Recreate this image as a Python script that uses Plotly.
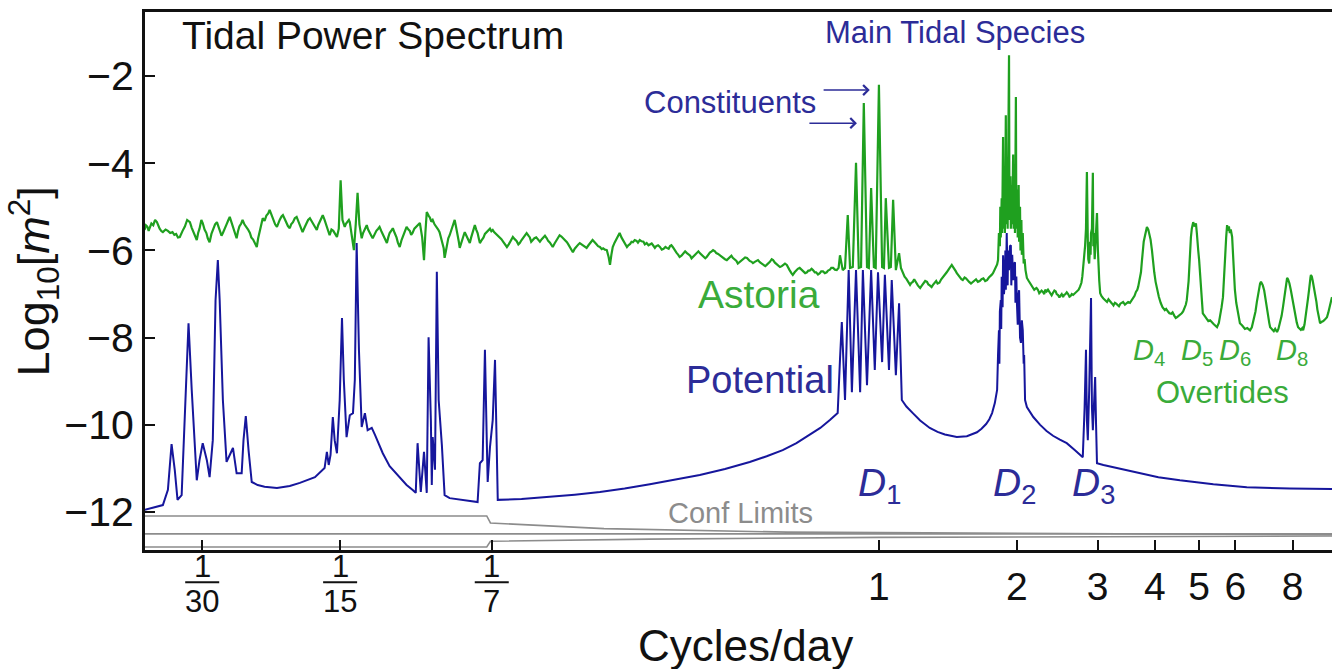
import math
import plotly.graph_objects as go

# ---------------- data (x: log10 cycles/day, y: log10 power [m^2]) ----------------
astoria = [
 (-1.603,-5.53),(-1.600,-5.42),(-1.597,-5.45),(-1.594,-5.55),(-1.592,-5.49),(-1.588,-5.38),(-1.584,-5.42),(-1.580,-5.30),
 (-1.576,-5.35),(-1.573,-5.45),(-1.570,-5.50),(-1.566,-5.56),(-1.563,-5.58),(-1.557,-5.52),(-1.552,-5.55),(-1.547,-5.60),
 (-1.542,-5.58),(-1.538,-5.64),(-1.534,-5.62),(-1.530,-5.70),(-1.526,-5.69),(-1.520,-5.55),(-1.515,-5.45),(-1.510,-5.30),
 (-1.504,-5.35),(-1.500,-5.48),(-1.497,-5.55),(-1.493,-5.68),(-1.489,-5.76),(-1.486,-5.60),(-1.483,-5.50),(-1.479,-5.30),
 (-1.476,-5.37),(-1.472,-5.52),(-1.468,-5.60),(-1.465,-5.72),(-1.461,-5.81),(-1.457,-5.62),(-1.453,-5.50),(-1.449,-5.40),
 (-1.445,-5.35),(-1.442,-5.45),(-1.439,-5.50),(-1.435,-5.66),(-1.432,-5.60),(-1.428,-5.48),(-1.424,-5.40),(-1.420,-5.30),
 (-1.417,-5.23),(-1.413,-5.36),(-1.410,-5.45),(-1.406,-5.62),(-1.402,-5.72),(-1.399,-5.56),(-1.396,-5.45),(-1.392,-5.38),
 (-1.389,-5.30),(-1.385,-5.40),(-1.381,-5.45),(-1.377,-5.52),(-1.373,-5.60),(-1.370,-5.70),(-1.366,-5.75),(-1.362,-5.82),
 (-1.358,-5.92),(-1.355,-5.72),(-1.351,-5.55),(-1.348,-5.38),(-1.345,-5.26),(-1.341,-5.32),(-1.337,-5.20),(-1.333,-5.15),
 (-1.330,-5.07),(-1.326,-5.18),(-1.322,-5.30),(-1.318,-5.40),(-1.314,-5.46),(-1.311,-5.36),(-1.308,-5.30),(-1.304,-5.22),
 (-1.301,-5.19),(-1.297,-5.28),(-1.294,-5.35),(-1.290,-5.44),(-1.286,-5.49),(-1.283,-5.40),(-1.279,-5.35),(-1.275,-5.26),
 (-1.271,-5.23),(-1.268,-5.32),(-1.265,-5.40),(-1.261,-5.50),(-1.258,-5.58),(-1.254,-5.48),(-1.250,-5.40),(-1.246,-5.30),
 (-1.242,-5.26),(-1.238,-5.34),(-1.235,-5.40),(-1.231,-5.48),(-1.227,-5.53),(-1.224,-5.42),(-1.221,-5.35),(-1.217,-5.24),
 (-1.214,-5.19),(-1.210,-5.30),(-1.206,-5.45),(-1.202,-5.58),(-1.199,-5.65),(-1.195,-5.52),(-1.191,-5.55),(-1.187,-5.62),
 (-1.183,-5.69),(-1.179,-5.50),(-1.175,-4.39),(-1.171,-5.30),(-1.168,-5.40),(-1.166,-5.46),(-1.163,-5.38),(-1.160,-5.35),
 (-1.157,-5.30),(-1.155,-5.35),(-1.152,-5.55),(-1.150,-5.70),(-1.146,-5.99),(-1.142,-5.40),(-1.138,-4.68),(-1.134,-5.40),
 (-1.131,-5.62),(-1.129,-5.72),(-1.126,-5.60),(-1.124,-5.55),(-1.121,-5.46),(-1.118,-5.42),(-1.115,-5.52),(-1.112,-5.60),
 (-1.108,-5.66),(-1.105,-5.72),(-1.101,-5.62),(-1.097,-5.55),(-1.093,-5.50),(-1.090,-5.46),(-1.086,-5.56),(-1.082,-5.65),
 (-1.078,-5.76),(-1.074,-5.83),(-1.071,-5.70),(-1.068,-5.60),(-1.064,-5.54),(-1.061,-5.49),(-1.057,-5.60),(-1.053,-5.70),
 (-1.050,-5.82),(-1.046,-5.92),(-1.042,-5.76),(-1.038,-5.65),(-1.034,-5.55),(-1.031,-5.46),(-1.027,-5.52),(-1.024,-5.55),
 (-1.021,-5.64),(-1.018,-5.60),(-1.014,-5.50),(-1.010,-5.45),(-1.006,-5.40),(-1.002,-5.37),(-0.997,-5.70),(-0.993,-6.22),
 (-0.990,-5.60),(-0.987,-5.12),(-0.983,-5.20),(-0.980,-5.25),(-0.977,-5.34),(-0.974,-5.30),(-0.970,-5.40),(-0.966,-5.45),
 (-0.962,-5.52),(-0.959,-5.58),(-0.956,-5.70),(-0.953,-5.80),(-0.950,-5.95),(-0.948,-6.17),(-0.945,-6.00),(-0.943,-5.85),
 (-0.940,-5.72),(-0.937,-5.65),(-0.934,-5.55),(-0.931,-5.45),(-0.928,-5.36),(-0.926,-5.30),(-0.923,-5.46),(-0.920,-5.60),
 (-0.917,-5.80),(-0.915,-5.94),(-0.912,-5.82),(-0.909,-5.75),(-0.906,-5.64),(-0.904,-5.58),(-0.901,-5.66),(-0.898,-5.70),
 (-0.895,-5.78),(-0.893,-5.83),(-0.890,-5.70),(-0.887,-5.60),(-0.884,-5.50),(-0.882,-5.42),(-0.879,-5.52),(-0.876,-5.60),
 (-0.873,-5.74),(-0.871,-5.83),(-0.867,-5.76),(-0.863,-5.70),(-0.860,-5.62),(-0.856,-5.58),(-0.853,-5.54),(-0.849,-5.50),
 (-0.846,-5.56),(-0.843,-5.53),(-0.840,-5.58),(-0.836,-5.62),(-0.832,-5.66),(-0.828,-5.69),(-0.824,-5.74),(-0.820,-5.80),
 (-0.816,-5.86),(-0.812,-5.92),(-0.808,-5.86),(-0.805,-5.80),(-0.802,-5.74),(-0.799,-5.69),(-0.795,-5.74),(-0.791,-5.78),
 (-0.787,-5.86),(-0.784,-5.83),(-0.780,-5.76),(-0.776,-5.70),(-0.772,-5.64),(-0.769,-5.60),(-0.765,-5.66),(-0.762,-5.70),
 (-0.759,-5.80),(-0.756,-5.76),(-0.752,-5.72),(-0.748,-5.70),(-0.744,-5.76),(-0.740,-5.80),(-0.736,-5.74),(-0.733,-5.70),
 (-0.729,-5.66),(-0.725,-5.72),(-0.722,-5.78),(-0.718,-5.82),(-0.715,-5.88),(-0.712,-5.92),(-0.708,-5.84),(-0.705,-5.78),
 (-0.701,-5.70),(-0.697,-5.65),(-0.693,-5.68),(-0.689,-5.72),(-0.685,-5.78),(-0.681,-5.81),(-0.678,-5.86),(-0.675,-5.92),
 (-0.671,-5.98),(-0.668,-6.04),(-0.664,-5.96),(-0.660,-5.90),(-0.656,-5.86),(-0.653,-5.83),(-0.649,-5.86),(-0.645,-5.88),
 (-0.641,-5.92),(-0.638,-5.94),(-0.634,-5.88),(-0.631,-5.85),(-0.628,-5.80),(-0.625,-5.76),(-0.621,-5.82),(-0.617,-5.85),
 (-0.613,-5.90),(-0.609,-5.92),(-0.605,-5.97),(-0.602,-5.95),(-0.598,-5.98),(-0.594,-5.99),(-0.590,-6.15),(-0.587,-6.33),
 (-0.584,-6.10),(-0.581,-5.92),(-0.577,-5.82),(-0.573,-5.75),(-0.569,-5.66),(-0.566,-5.60),(-0.562,-5.70),(-0.558,-5.78),
 (-0.554,-5.86),(-0.550,-5.92),(-0.547,-5.88),(-0.543,-5.85),(-0.540,-5.80),(-0.537,-5.81),(-0.533,-5.76),(-0.529,-5.78),
 (-0.526,-5.82),(-0.522,-5.76),(-0.518,-5.79),(-0.514,-5.80),(-0.511,-5.86),(-0.507,-5.83),(-0.503,-5.88),(-0.500,-5.86),
 (-0.496,-5.84),(-0.493,-5.88),(-0.489,-5.94),(-0.486,-5.90),(-0.482,-5.88),(-0.478,-5.92),(-0.474,-5.98),(-0.470,-5.96),
 (-0.466,-5.92),(-0.463,-5.94),(-0.459,-5.96),(-0.456,-5.90),(-0.453,-5.88),(-0.450,-5.92),(-0.446,-6.00),(-0.442,-6.05),
 (-0.438,-6.10),(-0.435,-6.15),(-0.431,-6.12),(-0.427,-6.08),(-0.423,-6.02),(-0.419,-6.06),(-0.415,-6.10),(-0.412,-6.12),
 (-0.409,-6.18),(-0.406,-6.15),(-0.402,-6.10),(-0.398,-6.08),(-0.394,-6.02),(-0.391,-6.06),(-0.387,-6.10),(-0.383,-6.12),
 (-0.379,-6.18),(-0.376,-6.15),(-0.372,-6.08),(-0.369,-6.05),(-0.365,-6.02),(-0.362,-5.99),(-0.358,-6.02),(-0.355,-6.06),
 (-0.351,-6.08),(-0.347,-6.11),(-0.343,-6.16),(-0.340,-6.18),(-0.336,-6.20),(-0.332,-6.22),(-0.328,-6.18),(-0.325,-6.15),
 (-0.322,-6.12),(-0.319,-6.17),(-0.315,-6.20),(-0.311,-6.24),(-0.308,-6.30),(-0.304,-6.27),(-0.300,-6.22),(-0.296,-6.20),
 (-0.292,-6.16),(-0.288,-6.17),(-0.285,-6.21),(-0.282,-6.24),(-0.278,-6.26),(-0.275,-6.29),(-0.271,-6.26),(-0.267,-6.24),
 (-0.264,-6.22),(-0.260,-6.27),(-0.256,-6.30),(-0.252,-6.31),(-0.248,-6.36),(-0.245,-6.33),(-0.241,-6.30),(-0.238,-6.26),
 (-0.234,-6.20),(-0.231,-6.22),(-0.227,-6.28),(-0.223,-6.32),(-0.220,-6.36),(-0.216,-6.38),(-0.212,-6.36),(-0.209,-6.34),
 (-0.205,-6.30),(-0.201,-6.33),(-0.198,-6.40),(-0.195,-6.45),(-0.191,-6.52),(-0.188,-6.56),(-0.184,-6.50),(-0.181,-6.46),
 (-0.177,-6.42),(-0.173,-6.40),(-0.169,-6.44),(-0.165,-6.46),(-0.161,-6.52),(-0.157,-6.50),(-0.154,-6.46),(-0.151,-6.46),
 (-0.147,-6.42),(-0.144,-6.45),(-0.140,-6.50),(-0.137,-6.50),(-0.133,-6.55),(-0.129,-6.52),(-0.126,-6.48),(-0.122,-6.48),
 (-0.118,-6.52),(-0.114,-6.50),(-0.111,-6.46),(-0.107,-6.44),(-0.104,-6.40),(-0.100,-6.40),(-0.096,-6.44),(-0.092,-6.45),
 (-0.088,-6.40),(-0.085,-6.11),(-0.079,-6.45),(-0.074,-6.40),(-0.068,-5.19),(-0.063,-6.40),(-0.057,-6.38),(-0.050,-3.99),
 (-0.044,-6.40),(-0.039,-6.38),(-0.033,-2.62),(-0.026,-6.38),(-0.022,-6.40),(-0.017,-4.57),(-0.011,-6.38),(-0.007,-6.40),
 (0.000,-2.20),(0.007,-6.38),(0.011,-6.40),(0.015,-4.80),(0.022,-6.40),(0.026,-6.38),(0.031,-4.84),(0.037,-6.45),
 (0.044,-6.06),(0.048,-6.40),(0.052,-6.52),(0.056,-6.60),(0.060,-6.65),(0.064,-6.74),(0.068,-6.79),(0.071,-6.74),
 (0.074,-6.72),(0.077,-6.66),(0.079,-6.70),(0.082,-6.76),(0.085,-6.80),(0.088,-6.84),(0.090,-6.86),(0.094,-6.80),
 (0.097,-6.76),(0.101,-6.70),(0.105,-6.72),(0.108,-6.78),(0.111,-6.80),(0.115,-6.84),(0.118,-6.79),(0.122,-6.72),
 (0.125,-6.70),(0.128,-6.76),(0.132,-6.74),(0.136,-6.66),(0.140,-6.61),(0.144,-6.56),(0.148,-6.50),(0.153,-6.42),
 (0.159,-6.33),(0.162,-6.38),(0.165,-6.42),(0.168,-6.48),(0.170,-6.52),(0.174,-6.58),(0.177,-6.62),(0.180,-6.66),
 (0.183,-6.68),(0.187,-6.62),(0.190,-6.64),(0.194,-6.70),(0.197,-6.72),(0.201,-6.76),(0.205,-6.72),(0.208,-6.68),
 (0.212,-6.66),(0.216,-6.72),(0.220,-6.70),(0.224,-6.66),(0.228,-6.64),(0.232,-6.70),(0.236,-6.68),(0.240,-6.62),
 (0.243,-6.60),(0.246,-6.56),(0.249,-6.52),(0.252,-6.46),(0.255,-6.40),(0.258,-6.32),(0.260,-6.22),(0.262,-5.60),
 (0.264,-5.90),(0.265,-5.00),(0.266,-5.70),(0.268,-4.80),(0.269,-5.60),(0.271,-3.40),(0.272,-5.50),(0.274,-4.60),
 (0.275,-5.60),(0.277,-2.90),(0.278,-5.40),(0.280,-4.40),(0.281,-5.50),(0.282,-4.60),(0.284,-1.52),(0.285,-5.30),
 (0.287,-4.30),(0.288,-5.50),(0.290,-4.50),(0.291,-5.40),(0.293,-3.80),(0.294,-5.50),(0.296,-4.40),(0.297,-5.60),
 (0.299,-2.48),(0.300,-5.50),(0.302,-4.60),(0.303,-5.70),(0.305,-4.50),(0.306,-5.80),(0.308,-5.00),(0.309,-6.00),
 (0.311,-5.30),(0.312,-6.10),(0.314,-5.60),(0.316,-6.30),(0.318,-6.20),(0.320,-6.45),(0.323,-6.63),(0.327,-6.70),
 (0.330,-6.75),(0.333,-6.80),(0.336,-6.83),(0.339,-6.90),(0.341,-6.88),(0.344,-6.86),(0.347,-6.90),(0.350,-6.98),
 (0.352,-6.96),(0.355,-6.92),(0.358,-6.95),(0.361,-7.00),(0.363,-6.90),(0.366,-6.94),(0.369,-6.90),(0.372,-6.96),
 (0.374,-6.98),(0.377,-7.03),(0.380,-6.97),(0.383,-6.92),(0.386,-6.94),(0.388,-7.00),(0.391,-7.02),(0.394,-7.08),
 (0.396,-7.04),(0.399,-7.00),(0.402,-7.07),(0.404,-7.02),(0.407,-7.00),(0.410,-6.96),(0.413,-7.00),(0.416,-7.06),
 (0.418,-7.05),(0.421,-7.00),(0.424,-7.02),(0.428,-6.98),(0.432,-6.95),(0.436,-6.90),(0.439,-6.83),(0.442,-6.74),
 (0.444,-6.60),(0.446,-6.40),(0.448,-6.22),(0.450,-5.90),(0.452,-5.50),(0.454,-4.20),(0.456,-5.80),(0.457,-6.20),
 (0.459,-6.30),(0.461,-5.80),(0.462,-6.10),(0.463,-5.60),(0.465,-5.50),(0.467,-4.22),(0.468,-5.90),(0.469,-5.60),
 (0.471,-6.20),(0.472,-6.00),(0.474,-5.80),(0.476,-5.14),(0.478,-6.00),(0.479,-6.30),(0.481,-6.70),(0.483,-6.98),
 (0.486,-7.05),(0.490,-7.10),(0.494,-7.14),(0.498,-7.18),(0.501,-7.12),(0.504,-7.15),(0.507,-7.20),(0.509,-7.22),
 (0.512,-7.26),(0.515,-7.20),(0.518,-7.22),(0.520,-7.25),(0.524,-7.28),(0.527,-7.22),(0.530,-7.20),(0.533,-7.18),
 (0.537,-7.24),(0.540,-7.22),(0.544,-7.18),(0.548,-7.20),(0.552,-7.14),(0.555,-7.10),(0.558,-7.04),(0.561,-6.95),
 (0.564,-6.90),(0.566,-6.83),(0.569,-6.70),(0.572,-6.50),(0.574,-6.25),(0.576,-6.00),(0.578,-5.80),(0.581,-5.65),
 (0.583,-5.52),(0.585,-5.46),(0.588,-5.52),(0.590,-5.60),(0.593,-5.75),(0.596,-6.00),(0.598,-6.25),(0.601,-6.50),
 (0.604,-6.72),(0.607,-6.90),(0.611,-7.06),(0.615,-7.20),(0.619,-7.30),(0.624,-7.37),(0.627,-7.34),(0.631,-7.40),
 (0.634,-7.44),(0.638,-7.45),(0.641,-7.42),(0.645,-7.50),(0.648,-7.55),(0.651,-7.53),(0.655,-7.50),(0.658,-7.48),
 (0.661,-7.44),(0.664,-7.40),(0.668,-7.30),(0.670,-7.24),(0.672,-7.14),(0.674,-6.95),(0.676,-6.70),(0.678,-6.30),
 (0.679,-6.00),(0.681,-5.70),(0.683,-5.50),(0.686,-5.35),(0.689,-5.45),(0.692,-5.38),(0.694,-5.60),(0.695,-5.80),
 (0.697,-6.00),(0.699,-6.22),(0.701,-6.60),(0.703,-6.90),(0.705,-7.20),(0.707,-7.44),(0.711,-7.50),(0.715,-7.55),
 (0.719,-7.62),(0.723,-7.60),(0.727,-7.66),(0.730,-7.68),(0.734,-7.72),(0.738,-7.76),(0.742,-7.66),(0.745,-7.50),
 (0.748,-7.30),(0.751,-7.07),(0.754,-6.60),(0.756,-6.10),(0.758,-5.70),(0.760,-5.42),(0.762,-5.55),(0.764,-5.45),
 (0.766,-5.60),(0.768,-5.52),(0.771,-5.69),(0.772,-5.90),(0.774,-6.20),(0.776,-6.60),(0.777,-6.90),(0.780,-7.20),
 (0.783,-7.40),(0.785,-7.56),(0.788,-7.67),(0.793,-7.72),(0.799,-7.80),(0.804,-7.78),(0.810,-7.83),(0.814,-7.76),
 (0.818,-7.60),(0.822,-7.40),(0.825,-7.18),(0.828,-6.95),(0.830,-6.85),(0.832,-6.76),(0.834,-6.72),(0.836,-6.76),
 (0.838,-6.80),(0.841,-6.92),(0.843,-7.07),(0.846,-7.30),(0.849,-7.50),(0.852,-7.66),(0.854,-7.76),(0.858,-7.82),
 (0.862,-7.85),(0.865,-7.80),(0.869,-7.87),(0.872,-7.80),(0.876,-7.65),(0.879,-7.50),(0.882,-7.30),(0.885,-7.05),
 (0.887,-6.85),(0.889,-6.72),(0.891,-6.63),(0.893,-6.66),(0.896,-6.75),(0.899,-6.90),(0.902,-7.07),(0.905,-7.30),
 (0.909,-7.50),(0.912,-7.65),(0.915,-7.76),(0.918,-7.80),(0.921,-7.82),(0.924,-7.78),(0.926,-7.83),(0.929,-7.70),
 (0.932,-7.50),(0.935,-7.25),(0.937,-7.07),(0.939,-6.90),(0.940,-6.75),(0.942,-6.62),(0.943,-6.56),(0.945,-6.60),
 (0.947,-6.70),(0.950,-6.85),(0.952,-6.98),(0.955,-7.18),(0.957,-7.35),(0.960,-7.52),(0.963,-7.67),(0.966,-7.64),
 (0.970,-7.62),(0.974,-7.58),(0.978,-7.53),(0.981,-7.42),(0.984,-7.30),(0.987,-7.16),(0.989,-7.07),
]

potential = [
 (-1.603,-11.95),(-1.563,-11.84),(-1.552,-11.49),(-1.544,-10.44),(-1.537,-11.04),(-1.531,-11.72),(-1.522,-11.61),
 (-1.513,-9.43),(-1.507,-7.67),(-1.500,-9.20),(-1.489,-11.27),(-1.483,-10.81),(-1.476,-10.42),(-1.467,-10.81),
 (-1.461,-11.20),(-1.454,-10.35),(-1.448,-7.14),(-1.443,-6.22),(-1.439,-7.14),(-1.432,-9.43),(-1.424,-10.85),
 (-1.417,-10.69),(-1.410,-10.53),(-1.402,-11.11),(-1.391,-11.11),(-1.387,-10.35),(-1.382,-9.80),(-1.376,-10.58),
 (-1.369,-11.31),(-1.356,-11.38),(-1.341,-11.42),(-1.314,-11.45),(-1.286,-11.40),(-1.264,-11.33),(-1.231,-11.20),
 (-1.210,-10.99),(-1.205,-10.62),(-1.201,-10.92),(-1.197,-10.69),(-1.192,-9.82),(-1.188,-10.35),(-1.183,-10.65),
 (-1.177,-9.43),(-1.172,-7.55),(-1.168,-8.97),(-1.162,-10.28),(-1.155,-9.78),(-1.148,-9.73),(-1.144,-8.97),
 (-1.140,-5.83),(-1.135,-8.28),(-1.129,-10.05),(-1.122,-9.73),(-1.116,-10.12),(-1.107,-10.07),(-1.100,-10.23),
 (-1.083,-10.65),(-1.068,-10.95),(-1.046,-11.20),(-1.031,-11.38),(-1.017,-11.50),(-1.011,-11.56),(-1.007,-10.42),
 (-1.002,-11.27),(-1.000,-11.54),(-0.993,-10.62),(-0.989,-11.38),(-0.987,-11.56),(-0.983,-7.99),(-0.978,-9.89),
 (-0.976,-11.38),(-0.974,-10.28),(-0.969,-11.03),(-0.965,-6.49),(-0.961,-9.43),(-0.954,-10.46),(-0.948,-11.61),
 (-0.937,-11.68),(-0.876,-11.77),(-0.871,-10.88),(-0.865,-10.81),(-0.860,-8.28),(-0.856,-10.35),(-0.854,-11.31),
 (-0.849,-10.51),(-0.843,-9.89),(-0.838,-8.51),(-0.834,-10.58),(-0.832,-11.72),(-0.780,-11.70),(-0.718,-11.65),
 (-0.664,-11.60),(-0.609,-11.54),(-0.555,-11.46),(-0.500,-11.36),(-0.445,-11.26),(-0.391,-11.15),(-0.336,-11.01),
 (-0.282,-10.85),(-0.245,-10.72),(-0.210,-10.58),(-0.180,-10.42),(-0.151,-10.23),(-0.128,-10.07),(-0.107,-9.89),
 (-0.090,-9.73),
 (-0.085,-8.51),(-0.081,-7.64),(-0.074,-9.43),(-0.066,-6.45),(-0.059,-9.25),(-0.050,-6.45),(-0.041,-9.25),
 (-0.035,-6.45),(-0.026,-9.09),(-0.017,-6.45),(-0.009,-8.74),(-0.002,-6.50),(0.007,-8.56),(0.013,-6.56),
 (0.022,-8.74),(0.028,-6.68),(0.037,-8.86),(0.044,-7.21),(0.050,-9.43),(0.060,-9.58),(0.074,-9.73),(0.090,-9.90),
 (0.111,-10.07),(0.128,-10.16),(0.144,-10.22),(0.170,-10.28),(0.192,-10.26),(0.214,-10.17),(0.224,-10.09),
 (0.234,-9.98),(0.241,-9.87),(0.247,-9.73),(0.253,-9.50),(0.258,-9.20),
 (0.260,-8.40),(0.262,-7.83),(0.263,-8.60),(0.264,-7.40),(0.266,-7.14),(0.267,-7.80),(0.268,-6.60),(0.270,-7.30),
 (0.271,-6.11),(0.273,-7.00),(0.275,-6.68),(0.276,-6.00),(0.277,-6.90),(0.279,-5.60),(0.281,-6.80),(0.282,-6.00),
 (0.284,-6.45),(0.286,-5.90),(0.288,-5.88),(0.289,-6.80),(0.291,-6.10),(0.293,-6.68),(0.295,-6.30),(0.297,-6.27),
 (0.298,-7.20),(0.300,-6.60),(0.301,-7.14),(0.303,-7.70),(0.305,-7.00),(0.306,-6.91),(0.308,-8.00),(0.310,-8.12),
 (0.312,-7.60),(0.314,-7.83),(0.316,-8.60),(0.317,-8.40),(0.319,-9.43),(0.323,-9.59),
 (0.337,-9.82),(0.352,-10.00),(0.366,-10.14),(0.380,-10.25),(0.395,-10.34),(0.410,-10.42),(0.428,-10.58),
 (0.445,-10.74),(0.449,-9.60),(0.452,-8.28),(0.454,-9.90),(0.456,-10.35),(0.459,-9.20),(0.463,-7.09),(0.465,-9.60),
 (0.467,-10.12),(0.470,-9.40),(0.472,-8.90),(0.474,-10.00),(0.476,-10.88),(0.490,-10.92),
 (0.511,-10.97),(0.540,-11.05),(0.570,-11.12),(0.610,-11.20),(0.657,-11.27),(0.730,-11.36),(0.803,-11.43),
 (0.897,-11.46),(0.989,-11.47),
]

conf_upper = [(-1.603,-12.09),(-0.856,-12.09),(-0.848,-12.25),(-0.600,-12.38),(-0.200,-12.46),(0.989,-12.52)]
conf_middle = [(-1.603,-12.50),(0.989,-12.50)]
conf_lower = [(-1.603,-12.80),(-0.856,-12.80),(-0.848,-12.67),(-0.500,-12.62),(0.000,-12.58),(0.989,-12.55)]

tick_vals = [1/30, 1/15, 1/7, 1, 2, 3, 4, 5, 6, 8]
tick_text = ["", "", "", "1", "2", "3", "4", "5", "6", "8"]
frac_denoms = [30, 15, 7]

# ---------------- figure ----------------
GREEN = "#1fa01f"
BLUE = "#16169c"
TBLUE = "#2c2c98"
TGREEN = "#3aab3a"
GRAY = "#8c8c8c"
FONT = "Liberation Sans"

XMIN, XMAX = -1.602, 0.989
YMIN, YMAX = -12.87, -0.53

def xs(pts):
    return [10 ** p[0] for p in pts]

def ys(pts):
    return [p[1] for p in pts]

fig = go.Figure()
for pts in (conf_upper, conf_middle, conf_lower):
    fig.add_trace(go.Scatter(x=xs(pts), y=ys(pts), mode="lines",
                             line=dict(color=GRAY, width=1.6), hoverinfo="skip"))
fig.add_trace(go.Scatter(x=xs(astoria), y=ys(astoria), mode="lines",
                         line=dict(color=GREEN, width=2.2), name="Astoria"))
fig.add_trace(go.Scatter(x=xs(potential), y=ys(potential), mode="lines",
                         line=dict(color=BLUE, width=2.0), name="Potential"))

ann = []
def txt(x, y, s, size, color, xanchor="center", xref="x", yref="y", angle=0):
    ann.append(dict(x=x, y=y, xref=xref, yref=yref, text=s, showarrow=False,
                    xanchor=xanchor, yanchor="middle", textangle=angle,
                    font=dict(family=FONT, size=size, color=color)))

txt(-1.526, -1.06, "Tidal Power Spectrum", 39, "#111111", xanchor="left")
txt(0.166, -1.01, "Main Tidal Species", 31, TBLUE)
txt(-0.325, -2.60, "Constituents", 31, TBLUE)
txt(-0.262, -7.02, "Astoria", 39, TGREEN)
txt(-0.260, -8.97, "Potential", 38, TBLUE)
txt(-0.303, -12.02, "Conf Limits", 29, GRAY)
for lx, k in ((0.002, 1), (0.297, 2), (0.469, 3)):
    txt(lx, -11.38, f"<i>D</i><sub>{k}</sub>", 39, TBLUE)
for lx, k in ((0.590, 4), (0.694, 5), (0.777, 6), (0.902, 8)):
    txt(lx, -8.33, f"<i>D</i><sub>{k}</sub>", 29, TGREEN)
txt(0.749, -9.25, "Overtides", 31, TGREEN)

# arrows to constituents
for (tail, head, yv) in ((-0.124, -0.020, -2.32), (-0.155, -0.048, -3.08)):
    ann.append(dict(x=head, y=yv, ax=tail, ay=yv, xref="x", yref="y", axref="x", ayref="y",
                    text="", showarrow=True, arrowhead=4, arrowsize=1.4, arrowwidth=1.4,
                    arrowcolor=TBLUE))

# fraction tick labels
shapes = []
def xpaper(lf):
    return (lf - XMIN) / (XMAX - XMIN)
for d in frac_denoms:
    lf = math.log10(1 / d)
    txt(lf, -0.030, "1", 31, "#111111", yref="paper")
    txt(lf, -0.096, str(d), 31, "#111111", yref="paper")
    px = xpaper(lf)
    shapes.append(dict(type="line", xref="paper", yref="paper",
                       x0=px - 17 / 1187, x1=px + 17 / 1187, y0=-0.060, y1=-0.060,
                       line=dict(color="#111111", width=2)))

# axis titles
txt(0.5055, -0.178, "Cycles/day", 44, "#111111", xref="paper", yref="paper")
txt(-0.094, 0.5, "Log<sub>10</sub>[<i>m</i><sup>2</sup>]", 45, "#111111",
    xref="paper", yref="paper", angle=-90)

fig.update_layout(
    width=1332, height=669,
    margin=dict(l=145, r=0, t=12, b=119),
    paper_bgcolor="white", plot_bgcolor="white",
    showlegend=False,
    annotations=ann, shapes=shapes,
    font=dict(family=FONT, color="#111111"),
)
fig.update_xaxes(type="log", range=[XMIN, XMAX], tickvals=tick_vals, ticktext=tick_text,
                 ticks="inside", ticklen=10, tickwidth=2, tickcolor="#111111",
                 showline=True, linecolor="#111111", linewidth=3, mirror=True,
                 showgrid=False, zeroline=False, tickfont=dict(size=39, family=FONT))
fig.update_yaxes(range=[YMIN, YMAX], dtick=2, tick0=-12,
                 ticks="inside", ticklen=10, tickwidth=2, tickcolor="#111111",
                 showline=True, linecolor="#111111", linewidth=3,
                 showgrid=False, zeroline=False, tickfont=dict(size=41, family=FONT))

fig.write_html("out.html")
